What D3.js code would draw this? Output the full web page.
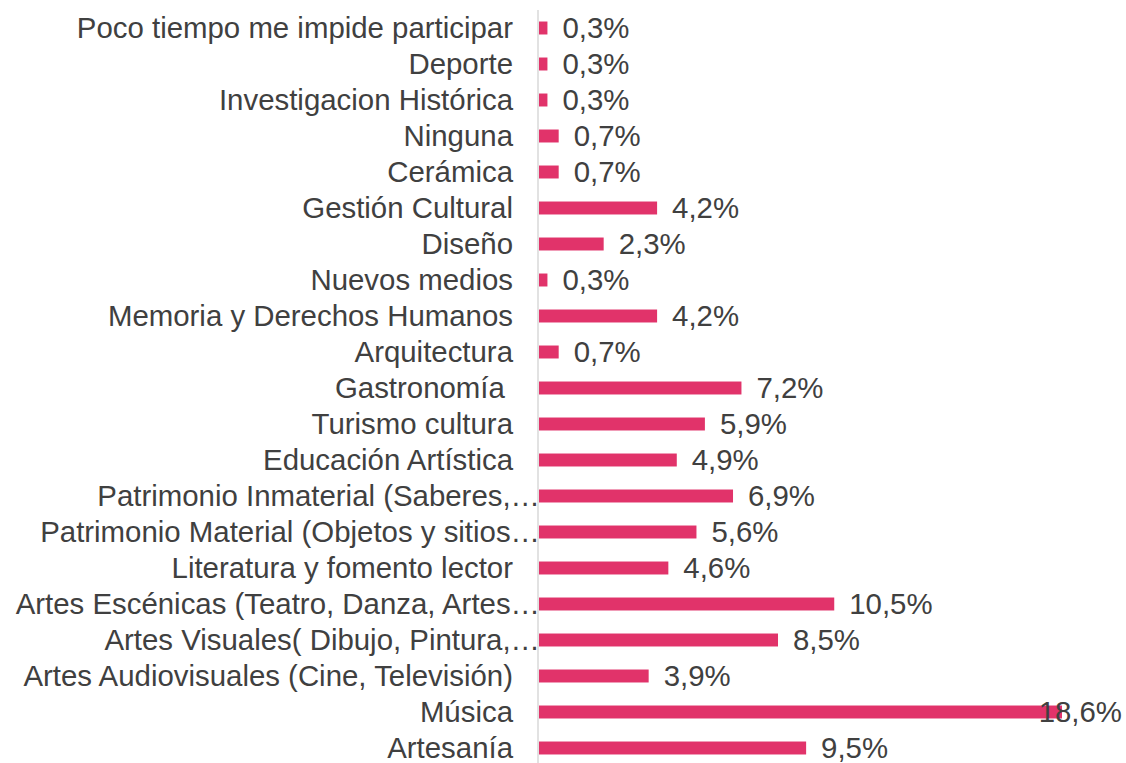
<!DOCTYPE html>
<html><head><meta charset="utf-8">
<script src="https://cdn.jsdelivr.net/npm/d3@7"></script>
<style>body{margin:0;background:#fff}svg{display:block}text{font-family:"Liberation Sans",Arial,sans-serif;white-space:pre}</style>
</head><body><svg id="c" width="1126" height="763"></svg>
<script>
const categories = ["Poco tiempo me impide participar","Deporte","Investigacion Histórica","Ninguna","Cerámica","Gestión Cultural","Diseño","Nuevos medios","Memoria y Derechos Humanos","Arquitectura","Gastronomía ","Turismo cultura","Educación Artística","Patrimonio Inmaterial (Saberes,…","Patrimonio Material (Objetos y sitios…","Literatura y fomento lector","Artes Escénicas (Teatro, Danza, Artes…","Artes Visuales( Dibujo, Pintura,…","Artes Audiovisuales (Cine, Televisión)","Música","Artesanía"];
const values = [0.3,0.3,0.3,0.7,0.7,4.2,2.3,0.3,4.2,0.7,7.2,5.9,4.9,6.9,5.6,4.6,10.5,8.5,3.9,18.6,9.5];
const valueLabels = ["0,3%","0,3%","0,3%","0,7%","0,7%","4,2%","2,3%","0,3%","4,2%","0,7%","7,2%","5,9%","4,9%","6,9%","5,6%","4,6%","10,5%","8,5%","3,9%","18,6%","9,5%"];

const svg = d3.select("#c");
const x0 = 539, W = 1126;
const x = d3.scaleLinear().domain([0, 18.6]).range([x0, 1062]);
const y = d3.scaleBand().domain(categories).range([10, 766]).paddingInner(0.64).paddingOuter(0.32);
const data = categories.map((c,i)=>({c, v:values[i], l:valueLabels[i]}));

svg.selectAll("rect.bar").data(data).join("rect").attr("class","bar")
  .attr("x", x(0)).attr("y", d=>y(d.c)).attr("width", d=>x(d.v)-x(0)).attr("height", y.bandwidth())
  .attr("fill", "#E1336A");

svg.append("line").attr("x1", x0-1).attr("x2", x0-1).attr("y1", 10).attr("y2", 763)
  .attr("stroke", "#d9d9d9").attr("stroke-width", 1.5);

svg.selectAll("text.cat").data(data).join("text").attr("class","cat")
  .attr("x", d=> d.c.endsWith("…") ? 540 : 513)
  .attr("y", d=>y(d.c)+y.bandwidth()/2).attr("dy","0.35em")
  .attr("text-anchor","end").attr("font-size", 29.4).attr("fill","#404040")
  .text(d=>d.c);

svg.selectAll("text.val").data(data).join("text").attr("class","val")
  .attr("y", d=>y(d.c)+y.bandwidth()/2).attr("dy","0.35em")
  .attr("font-size", 29.4).attr("fill","#404040")
  .text(d=>d.l)
  .attr("x", function(d){ const w=this.getComputedTextLength(); return Math.min(x(d.v)+15, W-4-w); });
</script></body></html>
